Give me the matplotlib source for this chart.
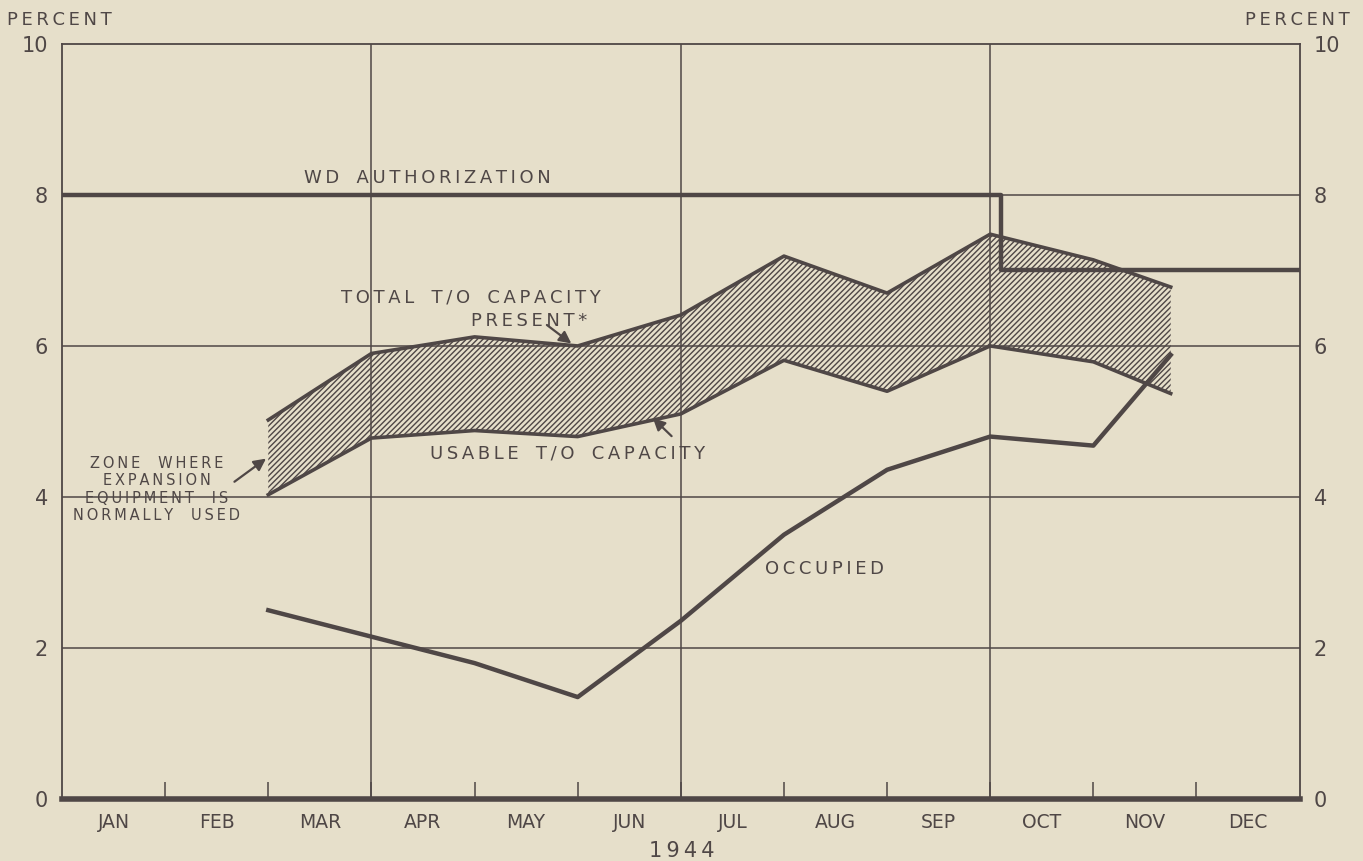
import numpy as np
import matplotlib.pyplot as plt

# month-end positions (0 = start of JAN)
months = ["JAN", "FEB", "MAR", "APR", "MAY", "JUN",
          "JUL", "AUG", "SEP", "OCT", "NOV", "DEC"]
x_cap = [2, 3, 4, 5, 6, 7, 8, 9, 10, 10.75]
total_cap = [5.02, 5.9, 6.12, 6.0, 6.41, 7.19, 6.7, 7.48, 7.14, 6.78]
usable_cap = [4.03, 4.78, 4.88, 4.8, 5.1, 5.81, 5.4, 6.0, 5.79, 5.37]

x_occ = [2, 3, 4, 5, 6, 7, 8, 9, 10, 10.75]
occupied = [2.5, 2.15, 1.8, 1.35, 2.36, 3.5, 4.36, 4.8, 4.68, 5.88]

x_wd = [0, 9.1, 9.1, 12]
wd_auth = [8, 8, 7, 7]

bg = "#e6dfca"
ink = "#4f4746"


def spaced(s):
    # hand lettering is widely spaced
    return "\u2009".join(s)


plt.rcParams['font.family'] = ['DejaVu Sans']
plt.rcParams['hatch.linewidth'] = 1.0
plt.rcParams['hatch.color'] = ink

fig = plt.figure(figsize=(13.63, 8.61), dpi=100, facecolor=bg)
ax = fig.add_axes([0.0455, 0.072, 0.908, 0.877])
ax.set_facecolor(bg)

ax.set_xlim(0, 12)
ax.set_ylim(0, 10)

# grid
for gx in [3, 6, 9]:
    ax.axvline(gx, color=ink, lw=1.1, zorder=1)
for gy in [2, 4, 6, 8]:
    ax.axhline(gy, color=ink, lw=1.1, zorder=1)

# hatched zone
ax.fill_between(x_cap, usable_cap, total_cap, facecolor="none",
                edgecolor=ink, hatch="//////", lw=0, zorder=2)
ax.plot(x_cap, total_cap, color=ink, lw=2.6, zorder=3)
ax.plot(x_cap, usable_cap, color=ink, lw=2.6, zorder=3)

ax.plot(x_occ, occupied, color=ink, lw=3.2, zorder=3)
ax.plot(x_wd, wd_auth, color=ink, lw=3.2, zorder=3)

# spines
for s in ["left", "right", "top"]:
    ax.spines[s].set_color(ink)
    ax.spines[s].set_linewidth(1.3)
ax.spines["bottom"].set_color(ink)
ax.spines["bottom"].set_linewidth(4)

# ticks
ax.set_xticks(range(1, 12), minor=False)
ax.set_xticklabels([])
ax.tick_params(axis="x", which="major", direction="in", length=12,
               width=1.1, color=ink, top=False)
ax.set_xticks(np.arange(0.5, 12, 1), minor=True)
ax.set_xticklabels(months, minor=True, fontsize=13.5, color=ink)
ax.tick_params(axis="x", which="minor", length=0, pad=10)

ax.set_yticks([0, 2, 4, 6, 8, 10])
ax.set_yticklabels(["0", "2", "4", "6", "8", "10"])
ax.tick_params(axis="y", length=0, labelsize=15, colors=ink, pad=10,
               labelright=True, right=False)

fig.text(0.005, 0.977, spaced("PERCENT"), fontsize=13, color=ink,
         ha="left", va="center")
fig.text(0.99, 0.977, spaced("PERCENT"), fontsize=13, color=ink,
         ha="right", va="center")
fig.text(0.5, 0.012, spaced("1944"), fontsize=15, color=ink,
         ha="center", va="center")

# labels
txt = dict(color=ink, fontsize=13, zorder=5)
ax.text(2.35, 8.1, spaced("WD") + "   " + spaced("AUTHORIZATION"),
        ha="left", va="bottom", **txt)
ax.text(6.82, 3.05, spaced("OCCUPIED"), ha="left", va="center", **txt)
ax.text(3.96, 6.64, "   ".join(spaced(w) for w in ["TOTAL", "T/O", "CAPACITY"]),
        ha="center", va="center", **txt)
ax.text(4.53, 6.33, spaced("PRESENT*"), ha="center", va="center", **txt)
ax.annotate("", xy=(4.96, 6.01), xytext=(4.68, 6.3),
            arrowprops=dict(arrowstyle="-|>", color=ink, lw=1.6,
                            mutation_scale=18), zorder=5)
ax.text(3.57, 4.58, "   ".join(spaced(w) for w in ["USABLE", "T/O", "CAPACITY"]),
        ha="left", va="center", **txt)
ax.annotate("", xy=(5.71, 5.07), xytext=(5.93, 4.78),
            arrowprops=dict(arrowstyle="-|>", color=ink, lw=1.6,
                            mutation_scale=18), zorder=5)
zone = ["ZONE  WHERE", "EXPANSION", "EQUIPMENT  IS", "NORMALLY  USED"]
ax.text(0.92, 4.1, "\n".join(spaced(l) for l in zone),
        ha="center", va="center", color=ink, fontsize=10.5,
        linespacing=1.2, zorder=5)
ax.annotate("", xy=(2.0, 4.53), xytext=(1.65, 4.18),
            arrowprops=dict(arrowstyle="-|>", color=ink, lw=1.6,
                            mutation_scale=18), zorder=5)

fig.savefig("out.png", dpi=100, facecolor=bg)
